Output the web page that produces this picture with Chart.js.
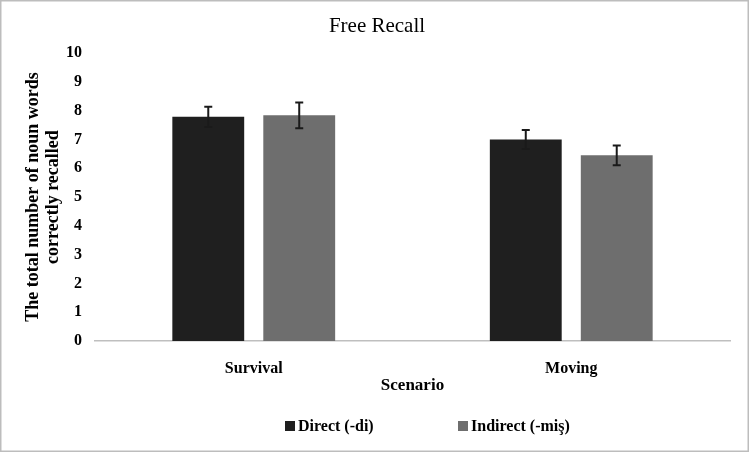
<!DOCTYPE html>
<html>
<head>
<meta charset="utf-8">
<script src="https://cdn.jsdelivr.net/npm/chart.js@4"></script>
<style>
html,body{margin:0;padding:0;background:#fff;}
#wrap{position:relative;width:749px;height:452px;}
</style>
</head>
<body>
<div id="wrap"><canvas id="c" width="749" height="452"></canvas></div>
<script>
const categories = ['Survival', 'Moving'];
const seriesNames = ['Direct (-di)', 'Indirect (-miş)'];
const directValues = [7.79, 7.0];
const indirectValues = [7.84, 6.45];
const directErrors = [0.35, 0.33];
const indirectErrors = [0.45, 0.34];
const yTicks = [0,1,2,3,4,5,6,7,8,9,10];

const SERIF = '"Liberation Serif", "Times New Roman", serif';
const colors = ['#1f1f1f', '#6e6e6e'];
const errs = [directErrors, indirectErrors];

const errorBars = {
  id: 'errorBars',
  afterDatasetsDraw(chart) {
    const ctx = chart.ctx, y = chart.scales.y;
    ctx.save();
    ctx.strokeStyle = '#1a1a1a';
    ctx.lineWidth = 2;
    chart.data.datasets.forEach((ds, i) => {
      const meta = chart.getDatasetMeta(i);
      meta.data.forEach((bar, j) => {
        const v = ds.data[j], e = errs[i][j];
        const yt = y.getPixelForValue(v + e), yb = y.getPixelForValue(v - e);
        const x = bar.x;
        ctx.beginPath();
        ctx.moveTo(x, yt); ctx.lineTo(x, yb);
        ctx.moveTo(x - 4, yt); ctx.lineTo(x + 4, yt);
        ctx.moveTo(x - 4, yb); ctx.lineTo(x + 4, yb);
        ctx.stroke();
      });
    });
    ctx.restore();
  }
};

const frameAndLegend = {
  id: 'frameAndLegend',
  beforeDraw(chart) {
    const ctx = chart.ctx;
    ctx.save();
    ctx.fillStyle = '#fff';
    ctx.fillRect(0, 0, chart.width, chart.height);
    ctx.restore();
  },
  afterDraw(chart) {
    const ctx = chart.ctx;
    ctx.save();
    ctx.strokeStyle = '#bdbdbd';
    ctx.lineWidth = 1.5;
    ctx.strokeRect(0.75, 0.75, chart.width - 1.5, chart.height - 1.5);
    ctx.font = 'bold 16px ' + SERIF;
    ctx.textBaseline = 'middle';
    ctx.textAlign = 'left';
    const ly = 426;
    const starts = [285, 458];
    chart.data.datasets.forEach((ds, i) => {
      const x0 = starts[i];
      ctx.fillStyle = ds.backgroundColor;
      ctx.fillRect(x0, ly - 5, 10, 10);
      ctx.fillStyle = '#000';
      ctx.fillText(ds.label, x0 + 13, ly + 1);
    });
    ctx.restore();
  }
};

new Chart(document.getElementById('c'), {
  type: 'bar',
  data: {
    labels: categories,
    datasets: [
      { label: seriesNames[0], data: directValues, backgroundColor: colors[0] },
      { label: seriesNames[1], data: indirectValues, backgroundColor: colors[1] }
    ]
  },
  options: {
    responsive: false,
    animation: false,
    devicePixelRatio: 1,
    layout: { padding: { left: 24, right: 19, top: 8, bottom: 56 } },
    datasets: { bar: { categoryPercentage: 0.573, barPercentage: 0.79 } },
    plugins: {
      legend: { display: false },
      tooltip: { enabled: false },
      title: {
        display: true,
        text: 'Free Recall',
        color: '#000',
        font: { family: SERIF, size: 21, weight: 'normal' },
        padding: { top: 6, bottom: 14 }
      }
    },
    scales: {
      x: {
        grid: { display: false },
        border: { display: true, color: '#bfbfbf', width: 1.5 },
        ticks: { color: '#000', font: { family: SERIF, size: 16, weight: 'bold' }, padding: 10 },
        title: {
          display: true, text: 'Scenario', color: '#000',
          font: { family: SERIF, size: 17, weight: 'bold' },
          padding: { top: 4, bottom: 0 }
        },
        afterFit(s) { s.height = 55; }
      },
      y: {
        min: 0, max: 10,
        afterBuildTicks(s) { s.ticks = yTicks.map(v => ({ value: v })); },
        grid: { display: false, drawTicks: false },
        border: { display: false },
        ticks: { color: '#000', font: { family: SERIF, size: 16, weight: 'bold' }, padding: 13 },
        title: {
          display: true,
          text: ['The total number of noun words', 'correctly recalled'],
          color: '#000',
          font: { family: SERIF, size: 18, weight: 'bold', lineHeight: 1.08 },
          padding: { top: 0, bottom: 0 }
        },
        afterFit(s) { s.width = 71; }
      }
    }
  },
  plugins: [errorBars, frameAndLegend]
});
</script>
</body>
</html>
